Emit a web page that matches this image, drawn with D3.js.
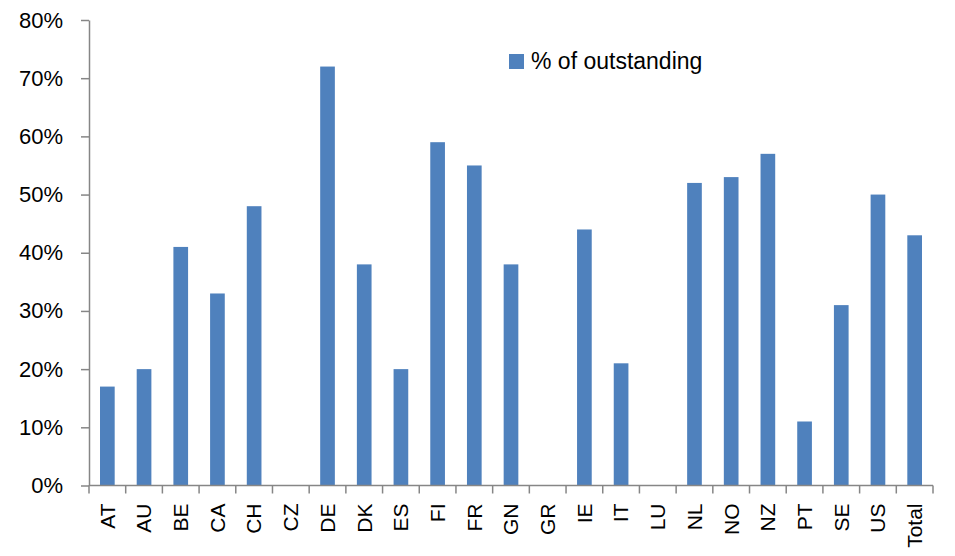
<!DOCTYPE html>
<html>
<head>
<meta charset="utf-8">
<script src="https://cdn.jsdelivr.net/npm/d3@7"></script>
<style>
  html, body { margin: 0; padding: 0; background: #fff; }
  svg { display: block; font-family: "Liberation Sans", Arial, sans-serif; }
</style>
</head>
<body>
<svg id="chart" width="955" height="556"></svg>
<script>
// Share of outstanding, by country
const categories = ["AT","AU","BE","CA","CH","CZ","DE","DK","ES","FI","FR","GN","GR","IE","IT","LU","NL","NO","NZ","PT","SE","US","Total"];
const values = [17, 20, 41, 33, 48, 0, 72, 38, 20, 59, 55, 38, 0, 44, 21, 0, 52, 53, 57, 11, 31, 50, 43];
const yTicks = [0, 10, 20, 30, 40, 50, 60, 70, 80];
const seriesName = "% of outstanding";

const svg = d3.select("#chart");
const margin = { left: 89, right: 22, top: 20, bottom: 70.5 };
const W = 955, H = 556;
const axisColor = "#868686";
const barColor = "#4F81BD";

const x = d3.scaleBand()
  .domain(categories)
  .range([margin.left, W - margin.right]);

const y = d3.scaleLinear()
  .domain([0, 80])
  .range([H - margin.bottom, margin.top]);

// Bars occupy 40% of each category slot, centred
const bw = x.bandwidth() * 0.4;
svg.append("g")
  .selectAll("rect")
  .data(categories.map((c, i) => ({ c, v: values[i] })))
  .join("rect")
  .attr("x", d => x(d.c) + (x.bandwidth() - bw) / 2)
  .attr("width", bw)
  .attr("y", d => y(d.v))
  .attr("height", d => y(0) - y(d.v))
  .attr("fill", barColor);

// Y axis
const yAxis = svg.append("g")
  .attr("transform", `translate(${margin.left},0)`)
  .call(d3.axisLeft(y).tickValues(yTicks).tickFormat(d => d + "%").tickSizeInner(8).tickSizeOuter(0).tickPadding(18));
yAxis.select(".domain").attr("stroke", axisColor).attr("stroke-width", 1.5);
yAxis.selectAll(".tick line").attr("stroke", axisColor).attr("stroke-width", 1.5);
yAxis.selectAll(".tick text").attr("font-size", 22).attr("fill", "#000");

// X axis with tick marks on slot boundaries
const xAxisG = svg.append("g").attr("transform", `translate(0,${y(0)})`);
xAxisG.append("line")
  .attr("x1", margin.left).attr("x2", W - margin.right)
  .attr("stroke", axisColor).attr("stroke-width", 1.5);
const bounds = categories.map(c => x(c)).concat([x(categories[categories.length - 1]) + x.bandwidth()]);
xAxisG.selectAll("line.tk")
  .data(bounds)
  .join("line")
  .attr("class", "tk")
  .attr("x1", d => d).attr("x2", d => d)
  .attr("y1", 0).attr("y2", 8)
  .attr("stroke", axisColor).attr("stroke-width", 1.5);
xAxisG.selectAll("text")
  .data(categories)
  .join("text")
  .attr("transform", d => `translate(${x(d) + x.bandwidth() / 2},18) rotate(-90)`)
  .attr("text-anchor", "end")
  .attr("dy", "0.35em")
  .attr("font-size", 21)
  .attr("fill", "#000")
  .text(d => d);

// Legend
const lg = svg.append("g").attr("transform", "translate(509,54)");
lg.append("rect").attr("width", 15).attr("height", 15).attr("fill", barColor);
lg.append("text").attr("x", 22).attr("y", 14.5).attr("font-size", 23).attr("fill", "#000").text(seriesName);
</script>
</body>
</html>
